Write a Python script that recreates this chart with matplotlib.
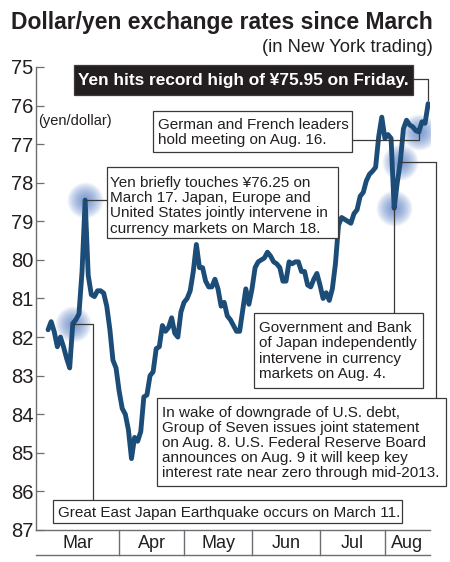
import numpy as np
import matplotlib
matplotlib.use("Agg")
import matplotlib.pyplot as plt
from matplotlib.lines import Line2D
from matplotlib.patches import Rectangle

plt.rcParams['font.family'] = ['Liberation Sans', 'DejaVu Sans']

# tipo de cambio dólar/yen en Nueva York, un valor por día hábil (1 mar - 19 ago 2011)
rates = [
    # marzo
    81.81, 81.60, 81.86, 82.25, 82.00, 82.25, 82.55, 82.80, 81.65, 81.55,
    81.40, 80.30, 78.45, 80.40, 80.90, 80.95, 80.80, 80.80, 80.86, 81.20,
    81.80, 82.60, 82.80,
    # abril
    83.40, 83.85, 84.00, 84.40, 85.15, 84.60, 84.70, 84.45, 83.55, 83.50,
    83.00, 82.90, 82.30, 82.25, 81.70, 81.85, 81.75, 81.50, 81.90, 82.00,
    81.35,
    # mayo
    81.10, 81.00, 80.80, 80.30, 79.60, 80.20, 80.20, 80.55, 80.70, 80.70,
    80.50, 80.75, 81.20, 81.10, 81.45, 81.55, 81.70, 81.85, 81.85, 81.30,
    80.75, 81.15,
    # junio
    80.75, 80.20, 80.05, 80.00, 79.95, 79.80, 79.90, 80.05, 80.10, 80.20,
    80.55, 80.55, 80.05, 80.10, 80.05, 80.05, 80.30, 80.30, 80.65, 80.70,
    80.50, 80.35,
    # julio
    80.65, 81.00, 80.85, 81.05, 80.75, 80.10, 79.10, 78.90, 78.95, 79.00,
    79.05, 78.80, 78.70, 78.35, 78.25, 77.95, 77.78, 77.70, 77.60, 76.80,
    76.30,
    # agosto
    76.85, 76.75, 76.85, 78.66, 78.00, 77.45, 76.60, 76.38, 76.50, 76.55,
    76.65, 76.68, 76.42, 76.46, 75.95,
]
days = np.arange(len(rates))

months = ['Mar', 'Apr', 'May', 'Jun', 'Jul', 'Aug']
month_start = [0, 23, 44, 66, 88, 109]

y_ticks = list(range(75, 88))

# días de los eventos marcados (índice de día hábil)
i_mar11, i_mar17, i_aug4, i_aug8, i_aug16, i_aug19 = 8, 12, 112, 114, 120, 123
glow_days = [i_mar11, i_mar17, i_aug4, i_aug8, i_aug16]

notes = {
    'record': "Yen hits record high of \u00a575.95 on Friday.",
    'aug16': ["German and French leaders", "hold meeting on Aug. 16."],
    'mar17': ["Yen briefly touches \u00a576.25 on", "March 17. Japan, Europe and",
              "United States jointly intervene in", "currency markets on March 18."],
    'aug4': ["Government and Bank", "of Japan independently",
             "intervene in currency", "markets on Aug. 4."],
    'aug8': ["In wake of downgrade of U.S. debt,", "Group of Seven issues joint statement",
             "on Aug. 8. U.S. Federal Reserve Board", "announces on Aug. 9 it will keep key",
             "interest rate near zero through mid-2013."],
    'mar11': ["Great East Japan Earthquake occurs on March 11."],
}

W, H = 450, 562
TXT = '#231f20'
GRIS = '#6d6e71'
BORDE = '#3a3a3a'
AZUL = '#1b4d78'

fig = plt.figure(figsize=(W / 100, H / 100), dpi=100)
ax = fig.add_axes([36 / W, 1 - 530 / H, (430 - 36) / W, (530 - 67) / H])


def P(X, Y):
    # pixel (desde arriba) -> fracción de figura
    return X / W, 1 - Y / H


def dato_px(i):
    x, y = ax.transData.transform((days[i], rates[i]))
    return x, H - y


# brillo azul detrás de los puntos clave
for i in glow_days:
    for r in np.linspace(18, 2, 16):
        ax.scatter(days[i], rates[i], s=(2 * r * 0.72) ** 2, color='#5078c4',
                   alpha=0.07, linewidths=0, zorder=2)

ax.plot(days, rates, color=AZUL, lw=3.5, solid_joinstyle='round',
        solid_capstyle='round', zorder=3)

ax.set_xlim(-3.9, 123.6)
ax.set_ylim(87, 75)
ax.set_yticks(y_ticks)
ax.set_xticks([])
ax.tick_params(axis='y', direction='in', length=6, width=0.9, color=GRIS,
               labelsize=14.5, labelcolor=TXT, pad=2)
for s in ['top', 'right']:
    ax.spines[s].set_visible(False)
for s in ['left', 'bottom']:
    ax.spines[s].set_color(GRIS)
    ax.spines[s].set_linewidth(1.0)
ax.set_facecolor('none')

# banda de meses bajo el eje
xt = ax.get_xaxis_transform()
yb = -(555 - 530) / (530 - 67)
lo, hi = ax.get_xlim()
ax.plot([lo, hi], [yb, yb], transform=xt, color=GRIS, lw=1.0, clip_on=False)
for m in month_start[1:]:
    ax.plot([m, m], [0, yb], transform=xt, color=GRIS, lw=1.0, clip_on=False)
edges = [lo] + month_start[1:] + [hi]
for k, name in enumerate(months):
    cx = (edges[k] + edges[k + 1]) / 2
    ax.text(cx, -(548.5 - 530) / (530 - 67), name, transform=xt, ha='center',
            va='baseline', fontsize=13, color=TXT)

# títulos
fig.text(*P(11, 29.5), "Dollar/yen exchange rates since March", fontsize=16.5,
         fontweight='bold', color=TXT, va='baseline', ha='left')
fig.text(*P(433, 52), "(in New York trading)", fontsize=13.2, color=TXT,
         va='baseline', ha='right')
fig.text(*P(38, 125), "(yen/dollar)", fontsize=10.5, color=TXT, va='baseline', ha='left')


def conector(pts):
    xs, ys = zip(*[P(X, Y) for X, Y in pts])
    fig.add_artist(Line2D(xs, ys, transform=fig.transFigure, color=BORDE, lw=0.9))


def caja(x0, y0, x1, y1, lineas, tx, base, paso, fc='white', col=TXT, bold=False, size=11.0):
    fx0, fy1 = P(x0, y1)
    fig.add_artist(Rectangle((fx0, fy1), (x1 - x0) / W, (y1 - y0) / H,
                             transform=fig.transFigure, facecolor=fc,
                             edgecolor=BORDE, lw=0.9, zorder=4))
    for k, t in enumerate(lineas):
        fig.text(*P(tx, base + k * paso), t, fontsize=size, color=col,
                 fontweight='bold' if bold else 'normal', va='baseline',
                 ha='left', zorder=5)


# conectores
x19, y19 = dato_px(i_aug19)
conector([(413, 79), (x19, 79), (x19, y19 - 4)])
x16, y16 = dato_px(i_aug16)
conector([(352, 140), (x16, 140), (x16, y16)])
x17, y17 = dato_px(i_mar17)
conector([(x17, y17), (107, y17)])
x4, y4 = dato_px(i_aug4)
conector([(x4, y4), (x4, 313)])
x8, y8 = dato_px(i_aug8)
conector([(x8, y8), (435.7, y8), (435.7, 398)])
x11, y11 = dato_px(i_mar11)
conector([(x11, y11), (93, y11), (93, 500)])

# cajas de texto
caja(74, 65, 413, 95, [notes['record']], 78, 85.5, 0, fc='#231f20',
     col='white', bold=True, size=12.4)
caja(153, 111, 352, 152, notes['aug16'], 158, 128.5, 15.5)
caja(107, 167, 338, 238, notes['mar17'], 110, 186.7, 15.3)
caja(254, 313, 423, 388, notes['aug4'], 259, 331.7, 15.5)
caja(157, 398, 446, 486, notes['aug8'], 162, 416.7, 15.0)
caja(53, 500, 402, 523, notes['mar11'], 58, 516.7, 0)

fig.savefig('out.png', dpi=100)
